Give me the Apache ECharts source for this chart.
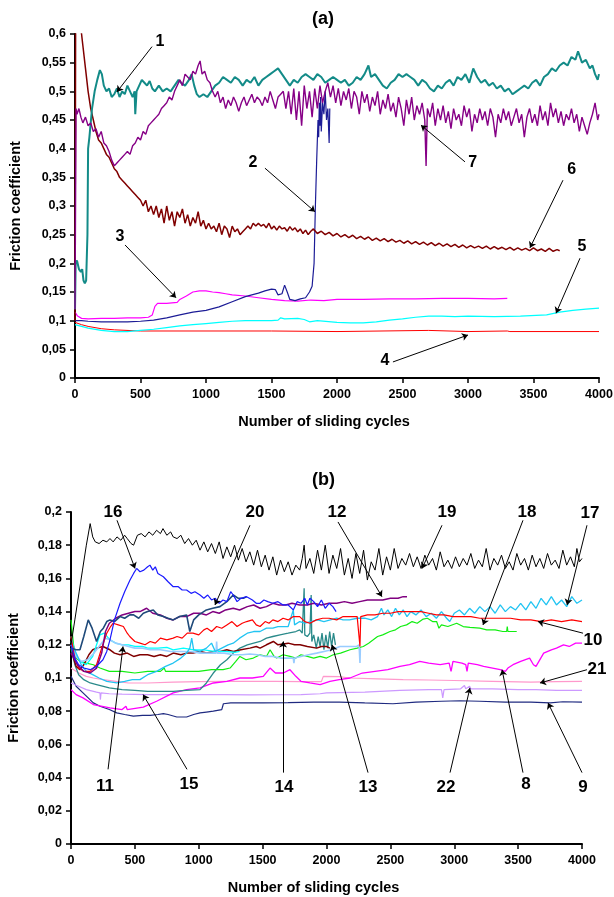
<!DOCTYPE html>
<html><head><meta charset="utf-8">
<script src="https://cdn.jsdelivr.net/npm/echarts@6/dist/echarts.min.js"></script>
<style>html,body{margin:0;padding:0;background:#fff}#c{width:614px;height:897px}</style>
</head><body><div id="c"></div>
<script>
// ---------- axis ticks ----------
const xTicksMax = 4000, xTickStep = 500;
const yTopMax = 0.6, yTopStep = 0.05;
const yBotMax = 0.2, yBotStep = 0.02;
const xName = 'Number of sliding cycles';
const yName = 'Friction coefficient';

// ---------- panel (a) series: [cycles, friction] ----------
const a1 = [[0,0.12],[5,0.2],[15,0.205],[30,0.19],[45,0.185],[55,0.19],[65,0.17],[75,0.165],[85,0.17],[95,0.25],[100,0.4],[110,0.42],[130,0.47],[150,0.5],[170,0.52],[190,0.537],[205,0.53],[220,0.51],[240,0.5],[260,0.505],[280,0.49],[300,0.495],[320,0.505],[340,0.49],[360,0.5],[380,0.495],[400,0.51],[420,0.5],[440,0.49],[455,0.5],[460,0.46],[470,0.5],[490,0.51],[510,0.52],[530,0.515],[550,0.51],[570,0.518],[590,0.505],[610,0.5],[640,0.51],[670,0.5],[700,0.505],[730,0.5],[760,0.51],[790,0.52],[810,0.515],[840,0.51],[870,0.52],[890,0.53],[910,0.51],[930,0.495],[950,0.49],[980,0.495],[1010,0.49],[1040,0.5],[1070,0.51],[1100,0.515],[1130,0.525],[1160,0.52],[1190,0.515],[1220,0.525],[1250,0.52],[1280,0.51],[1310,0.52],[1340,0.515],[1370,0.525],[1400,0.51],[1430,0.52],[1460,0.525],[1490,0.53],[1520,0.535],[1550,0.54],[1580,0.53],[1610,0.52],[1640,0.51],[1670,0.52],[1700,0.515],[1730,0.525],[1760,0.53],[1790,0.525],[1820,0.52],[1850,0.53],[1880,0.525],[1910,0.515],[1940,0.52],[1970,0.525],[2000,0.52],[2030,0.515],[2060,0.52],[2090,0.51],[2120,0.515],[2150,0.525],[2180,0.52],[2210,0.53],[2240,0.545],[2260,0.525],[2290,0.53],[2320,0.52],[2350,0.51],[2380,0.505],[2410,0.515],[2440,0.52],[2470,0.53],[2500,0.525],[2530,0.53],[2560,0.525],[2590,0.52],[2620,0.51],[2650,0.52],[2680,0.515],[2710,0.505],[2740,0.5],[2770,0.51],[2800,0.505],[2830,0.515],[2860,0.52],[2890,0.51],[2920,0.525],[2950,0.52],[2980,0.53],[3010,0.515],[3040,0.54],[3070,0.525],[3100,0.515],[3130,0.52],[3160,0.51],[3190,0.515],[3220,0.505],[3250,0.51],[3280,0.5],[3310,0.505],[3340,0.495],[3370,0.5],[3400,0.505],[3430,0.51],[3460,0.505],[3490,0.515],[3520,0.52],[3550,0.51],[3580,0.525],[3610,0.53],[3640,0.54],[3670,0.535],[3700,0.545],[3730,0.55],[3760,0.545],[3790,0.56],[3820,0.555],[3840,0.57],[3870,0.55],[3900,0.555],[3930,0.54],[3950,0.545],[3970,0.53],[3990,0.52],[4000,0.53]];
const a7 = [[0,0.12],[8,0.47],[15,0.46],[30,0.47],[45,0.455],[60,0.445],[80,0.455],[100,0.44],[120,0.445],[140,0.43],[160,0.435],[180,0.42],[200,0.43],[220,0.41],[240,0.405],[260,0.395],[280,0.38],[300,0.37],[320,0.375],[340,0.38],[360,0.385],[380,0.39],[400,0.395],[420,0.39],[440,0.405],[460,0.41],[480,0.42],[500,0.415],[520,0.43],[540,0.425],[560,0.44],[580,0.445],[600,0.45],[620,0.455],[640,0.46],[660,0.47],[680,0.475],[700,0.48],[720,0.49],[740,0.485],[760,0.5],[780,0.51],[800,0.52],[820,0.51],[840,0.53],[860,0.525],[880,0.52],[900,0.535],[920,0.53],[940,0.545],[955,0.553],[970,0.53],[990,0.535],[1010,0.52],[1030,0.515],[1050,0.5],[1070,0.49],[1090,0.5],[1110,0.48],[1130,0.49],[1150,0.47],[1170,0.485],[1190,0.475],[1210,0.49],[1230,0.48],[1250,0.465],[1270,0.48],[1290,0.49],[1310,0.475],[1330,0.485],[1350,0.495],[1370,0.48],[1390,0.49],[1410,0.485],[1430,0.475],[1450,0.49],[1470,0.48],[1490,0.5],[1510,0.485],[1530,0.47],[1550,0.49],[1570,0.495],[1590,0.5],[1610,0.47],[1630,0.5],[1650,0.46],[1670,0.505],[1690,0.45],[1710,0.5],[1730,0.44],[1750,0.51],[1770,0.47],[1790,0.5],[1810,0.455],[1830,0.505],[1850,0.47],[1870,0.51],[1890,0.48],[1910,0.5],[1930,0.515],[1950,0.49],[1970,0.51],[1990,0.48],[2010,0.505],[2030,0.475],[2050,0.5],[2070,0.485],[2090,0.505],[2110,0.47],[2130,0.5],[2150,0.49],[2170,0.46],[2190,0.5],[2210,0.48],[2230,0.495],[2250,0.465],[2270,0.49],[2290,0.475],[2310,0.5],[2330,0.46],[2350,0.485],[2370,0.47],[2390,0.495],[2410,0.465],[2430,0.48],[2450,0.455],[2470,0.49],[2490,0.47],[2510,0.44],[2530,0.485],[2550,0.46],[2570,0.49],[2590,0.45],[2610,0.475],[2630,0.46],[2650,0.48],[2670,0.45],[2680,0.37],[2690,0.47],[2710,0.455],[2730,0.48],[2750,0.44],[2770,0.47],[2790,0.45],[2810,0.475],[2830,0.445],[2850,0.465],[2870,0.435],[2890,0.47],[2910,0.45],[2930,0.46],[2950,0.44],[2970,0.475],[2990,0.455],[3010,0.47],[3030,0.43],[3050,0.46],[3070,0.445],[3090,0.47],[3110,0.45],[3130,0.465],[3150,0.44],[3170,0.47],[3190,0.455],[3210,0.42],[3230,0.46],[3250,0.445],[3270,0.47],[3290,0.45],[3310,0.465],[3330,0.44],[3350,0.455],[3370,0.47],[3390,0.445],[3410,0.46],[3430,0.42],[3450,0.455],[3470,0.47],[3490,0.445],[3510,0.46],[3530,0.44],[3550,0.475],[3570,0.45],[3590,0.465],[3610,0.44],[3630,0.48],[3650,0.455],[3670,0.47],[3690,0.445],[3710,0.465],[3730,0.44],[3750,0.46],[3770,0.45],[3790,0.47],[3810,0.445],[3830,0.46],[3850,0.43],[3870,0.455],[3890,0.44],[3910,0.425],[3930,0.445],[3950,0.46],[3970,0.48],[3990,0.45],[4000,0.46]];
const a6 = [[0,0.1],[5,0.65],[40,0.62],[60,0.58],[80,0.54],[100,0.5],[120,0.47],[140,0.45],[160,0.43],[180,0.415],[200,0.41],[220,0.4],[240,0.39],[260,0.385],[280,0.375],[300,0.365],[320,0.36],[340,0.35],[360,0.345],[380,0.34],[400,0.335],[420,0.33],[440,0.325],[460,0.32],[480,0.315],[500,0.31],[520,0.3],[540,0.31],[560,0.29],[580,0.3],[600,0.285],[620,0.3],[640,0.28],[660,0.295],[680,0.27],[700,0.3],[720,0.275],[740,0.29],[760,0.265],[780,0.29],[800,0.28],[820,0.295],[840,0.27],[860,0.285],[880,0.265],[900,0.28],[920,0.27],[940,0.29],[960,0.265],[980,0.275],[1000,0.26],[1020,0.27],[1040,0.26],[1060,0.265],[1080,0.255],[1100,0.27],[1120,0.25],[1140,0.265],[1160,0.26],[1180,0.245],[1200,0.265],[1220,0.255],[1240,0.26],[1260,0.25],[1280,0.255],[1300,0.26],[1320,0.265],[1340,0.26],[1360,0.27],[1380,0.265],[1400,0.27],[1420,0.265],[1440,0.268],[1460,0.262],[1480,0.27],[1500,0.26],[1520,0.265],[1540,0.258],[1560,0.265],[1580,0.26],[1600,0.262],[1620,0.256],[1640,0.264],[1660,0.258],[1680,0.262],[1700,0.255],[1720,0.26],[1740,0.252],[1760,0.258],[1780,0.25],[1800,0.256],[1820,0.26],[1850,0.252],[1880,0.256],[1910,0.25],[1940,0.254],[1970,0.248],[2000,0.252],[2030,0.246],[2060,0.25],[2090,0.245],[2120,0.249],[2150,0.243],[2180,0.247],[2210,0.242],[2240,0.246],[2270,0.24],[2300,0.244],[2330,0.239],[2360,0.243],[2390,0.238],[2420,0.242],[2450,0.237],[2480,0.24],[2510,0.235],[2540,0.239],[2570,0.234],[2600,0.238],[2630,0.233],[2660,0.237],[2690,0.232],[2720,0.236],[2750,0.231],[2780,0.235],[2810,0.23],[2840,0.234],[2870,0.229],[2900,0.233],[2930,0.228],[2960,0.232],[2990,0.227],[3020,0.231],[3050,0.227],[3080,0.23],[3110,0.226],[3140,0.23],[3170,0.225],[3200,0.229],[3230,0.225],[3260,0.228],[3290,0.224],[3320,0.228],[3350,0.223],[3380,0.227],[3410,0.223],[3440,0.226],[3470,0.222],[3500,0.227],[3530,0.222],[3560,0.225],[3590,0.221],[3620,0.226],[3650,0.221],[3680,0.224],[3700,0.222]];
const a2 = [[0,0.1],[50,0.1],[100,0.099],[200,0.098],[300,0.098],[400,0.098],[500,0.099],[600,0.101],[700,0.105],[800,0.11],[900,0.115],[1000,0.118],[1100,0.124],[1200,0.133],[1300,0.142],[1400,0.148],[1450,0.152],[1500,0.155],[1530,0.154],[1550,0.145],[1580,0.147],[1600,0.162],[1620,0.15],[1640,0.137],[1680,0.135],[1720,0.138],[1760,0.14],[1790,0.15],[1810,0.16],[1825,0.2],[1835,0.3],[1845,0.38],[1855,0.45],[1860,0.42],[1865,0.48],[1870,0.44],[1875,0.49],[1880,0.43],[1890,0.48],[1900,0.46],[1910,0.5],[1920,0.45],[1930,0.47],[1940,0.41],[1945,0.47]];
const a3 = [[0,0.115],[20,0.108],[50,0.104],[100,0.103],[200,0.104],[300,0.104],[400,0.105],[500,0.105],[560,0.106],[590,0.11],[610,0.125],[630,0.13],[700,0.13],[780,0.132],[800,0.137],[850,0.143],[900,0.15],[950,0.152],[1000,0.152],[1050,0.15],[1100,0.149],[1150,0.147],[1200,0.145],[1300,0.143],[1400,0.14],[1500,0.137],[1600,0.135],[1700,0.134],[1800,0.136],[1900,0.135],[2000,0.137],[2200,0.137],[2400,0.138],[2600,0.138],[2800,0.139],[3000,0.139],[3200,0.138],[3300,0.139]];
const a5 = [[0,0.093],[50,0.09],[100,0.087],[200,0.083],[300,0.081],[400,0.081],[500,0.083],[600,0.085],[700,0.088],[800,0.091],[900,0.093],[1000,0.095],[1100,0.097],[1200,0.099],[1300,0.1],[1400,0.1],[1500,0.1],[1550,0.101],[1570,0.105],[1600,0.103],[1700,0.104],[1750,0.102],[1790,0.098],[1850,0.1],[2000,0.097],[2100,0.096],[2200,0.096],[2300,0.098],[2400,0.101],[2500,0.103],[2600,0.106],[2700,0.108],[2800,0.108],[2900,0.107],[3000,0.108],[3200,0.107],[3400,0.108],[3600,0.11],[3700,0.115],[3800,0.118],[3900,0.12],[4000,0.122]];
const a4 = [[0,0.097],[50,0.093],[100,0.09],[200,0.086],[300,0.084],[500,0.082],[1000,0.082],[1500,0.082],[2000,0.081],[2700,0.083],[2710,0.081],[3000,0.081],[3300,0.082],[3310,0.084],[3320,0.081],[4000,0.081]];

// ---------- panel (b) series ----------
const b19 = [[0,0.12],[30,0.135],[60,0.15],[90,0.165],[120,0.18],[150,0.193],[170,0.185],[190,0.182],[220,0.181],[250,0.183],[280,0.182],[305,0.184],[330,0.182],[360,0.185],[390,0.183],[420,0.186],[440,0.184],[470,0.181],[490,0.18],[520,0.186],[550,0.187],[580,0.185],[610,0.188],[640,0.186],[670,0.189],[700,0.187],[720,0.19],[750,0.186],[780,0.188],[800,0.185],[830,0.184],[860,0.186],[890,0.181],[920,0.184],[950,0.18],[980,0.183],[1010,0.177],[1040,0.182],[1070,0.176],[1100,0.181],[1130,0.175],[1160,0.182],[1190,0.172],[1220,0.179],[1250,0.173],[1280,0.18],[1310,0.171],[1340,0.178],[1370,0.17],[1400,0.176],[1430,0.168],[1460,0.177],[1490,0.167],[1520,0.174],[1550,0.165],[1580,0.173],[1610,0.162],[1640,0.171],[1670,0.164],[1700,0.17],[1730,0.162],[1760,0.168],[1790,0.165],[1810,0.172],[1825,0.18],[1840,0.166],[1870,0.172],[1900,0.163],[1930,0.177],[1960,0.165],[1990,0.18],[2020,0.163],[2050,0.174],[2080,0.166],[2110,0.178],[2140,0.162],[2170,0.172],[2200,0.16],[2230,0.175],[2260,0.163],[2290,0.177],[2320,0.159],[2350,0.17],[2380,0.165],[2410,0.178],[2440,0.162],[2470,0.173],[2500,0.165],[2530,0.178],[2560,0.166],[2590,0.172],[2620,0.168],[2650,0.175],[2680,0.167],[2710,0.173],[2740,0.166],[2770,0.174],[2800,0.168],[2830,0.172],[2860,0.165],[2890,0.176],[2920,0.167],[2950,0.171],[2980,0.166],[3010,0.173],[3040,0.167],[3070,0.172],[3100,0.168],[3130,0.175],[3160,0.166],[3190,0.171],[3220,0.167],[3250,0.178],[3280,0.165],[3310,0.172],[3340,0.168],[3370,0.174],[3400,0.166],[3430,0.17],[3460,0.165],[3490,0.175],[3520,0.168],[3550,0.172],[3580,0.165],[3610,0.174],[3640,0.167],[3670,0.172],[3700,0.166],[3730,0.175],[3760,0.168],[3790,0.171],[3820,0.166],[3850,0.177],[3880,0.168],[3910,0.173],[3940,0.167],[3960,0.178],[3980,0.17],[4000,0.172]];
const b16 = [[0,0.12],[30,0.112],[60,0.108],[100,0.106],[150,0.105],[200,0.107],[250,0.111],[280,0.116],[305,0.123],[340,0.135],[384,0.145],[420,0.152],[462,0.159],[490,0.163],[514,0.166],[540,0.164],[570,0.165],[600,0.167],[618,0.168],[640,0.165],[660,0.167],[680,0.163],[700,0.162],[723,0.161],[760,0.158],[800,0.155],[840,0.155],[870,0.153],[905,0.153],[940,0.151],[970,0.152],[1010,0.15],[1040,0.148],[1070,0.15],[1100,0.147],[1130,0.148],[1160,0.145],[1190,0.147],[1220,0.146],[1250,0.152],[1270,0.15],[1300,0.146],[1330,0.148],[1375,0.149],[1420,0.147],[1450,0.145],[1480,0.145],[1510,0.147],[1540,0.146],[1580,0.145],[1620,0.146],[1660,0.144],[1700,0.144],[1740,0.141],[1770,0.146],[1800,0.145],[1830,0.148],[1850,0.144],[1870,0.148],[1900,0.146],[1930,0.143],[1960,0.147],[1990,0.142],[2020,0.145],[2050,0.143],[2075,0.14]];
const b20 = [[0,0.118],[40,0.117],[70,0.117],[100,0.125],[135,0.135],[165,0.13],[200,0.122],[230,0.128],[253,0.13],[280,0.134],[305,0.135],[340,0.134],[384,0.137],[420,0.136],[460,0.138],[490,0.138],[530,0.136],[566,0.139],[600,0.14],[644,0.141],[680,0.138],[723,0.137],[760,0.136],[800,0.135],[850,0.137],[905,0.138],[930,0.128],[960,0.135],[1000,0.138],[1060,0.141],[1110,0.142],[1166,0.143],[1220,0.146],[1270,0.15],[1310,0.148],[1350,0.148],[1375,0.149]];
const b12 = [[0,0.115],[50,0.108],[100,0.104],[150,0.103],[200,0.106],[240,0.115],[270,0.128],[300,0.133],[350,0.136],[400,0.138],[450,0.139],[500,0.14],[540,0.14],[592,0.142],[640,0.139],[700,0.138],[750,0.136],[800,0.135],[850,0.137],[905,0.137],[960,0.139],[1010,0.139],[1060,0.138],[1110,0.14],[1160,0.139],[1210,0.141],[1270,0.142],[1320,0.141],[1380,0.143],[1430,0.144],[1480,0.142],[1530,0.143],[1580,0.145],[1630,0.144],[1680,0.144],[1730,0.145],[1790,0.144],[1850,0.144],[1900,0.145],[1960,0.144],[2020,0.145],[2080,0.145],[2140,0.146],[2200,0.145],[2260,0.146],[2320,0.147],[2380,0.147],[2440,0.147],[2500,0.148],[2560,0.148],[2600,0.149],[2630,0.149]];
const b10 = [[0,0.125],[30,0.112],[60,0.106],[100,0.104],[150,0.104],[200,0.108],[240,0.118],[280,0.127],[310,0.131],[330,0.133],[370,0.132],[410,0.131],[440,0.127],[460,0.125],[500,0.122],[540,0.121],[580,0.12],[620,0.122],[660,0.121],[700,0.124],[750,0.123],[800,0.124],[830,0.125],[870,0.124],[910,0.127],[955,0.127],[1000,0.126],[1040,0.129],[1065,0.13],[1100,0.128],[1140,0.131],[1180,0.13],[1220,0.132],[1260,0.134],[1300,0.131],[1340,0.133],[1375,0.134],[1420,0.135],[1450,0.132],[1480,0.131],[1520,0.134],[1550,0.133],[1580,0.135],[1620,0.134],[1660,0.136],[1700,0.135],[1740,0.137],[1790,0.137],[1830,0.134],[1870,0.133],[1920,0.135],[1970,0.136],[2020,0.136],[2080,0.135],[2130,0.137],[2180,0.137],[2240,0.137],[2255,0.137],[2262,0.119],[2268,0.137],[2320,0.138],[2380,0.138],[2440,0.139],[2500,0.139],[2560,0.14],[2620,0.14],[2680,0.14],[2740,0.14],[2800,0.139],[2860,0.138],[2920,0.138],[2990,0.137],[3060,0.137],[3130,0.137],[3200,0.136],[3280,0.136],[3360,0.136],[3440,0.136],[3520,0.135],[3600,0.135],[3680,0.134],[3760,0.135],[3840,0.134],[3920,0.135],[4000,0.134]];
const b17 = [[0,0.122],[40,0.115],[80,0.108],[120,0.104],[170,0.102],[220,0.1],[280,0.098],[358,0.097],[420,0.098],[480,0.099],[540,0.099],[600,0.102],[670,0.104],[740,0.107],[800,0.109],[860,0.112],[905,0.115],[930,0.118],[945,0.124],[960,0.117],[1010,0.116],[1060,0.118],[1100,0.121],[1130,0.116],[1180,0.118],[1230,0.12],[1270,0.121],[1320,0.124],[1380,0.127],[1430,0.128],[1480,0.128],[1530,0.13],[1580,0.13],[1620,0.131],[1660,0.131],[1700,0.131],[1740,0.141],[1750,0.132],[1790,0.134],[1830,0.133],[1880,0.134],[1930,0.135],[1980,0.134],[2030,0.135],[2080,0.136],[2130,0.135],[2180,0.135],[2240,0.136],[2300,0.136],[2350,0.135],[2400,0.137],[2430,0.142],[2450,0.138],[2480,0.141],[2510,0.137],[2540,0.142],[2570,0.138],[2600,0.141],[2630,0.137],[2660,0.14],[2700,0.138],[2740,0.141],[2780,0.137],[2820,0.139],[2860,0.136],[2900,0.14],[2940,0.136],[2965,0.134],[3000,0.139],[3040,0.141],[3080,0.138],[3120,0.142],[3160,0.139],[3200,0.143],[3240,0.14],[3280,0.143],[3320,0.139],[3360,0.144],[3400,0.14],[3440,0.143],[3480,0.141],[3520,0.145],[3560,0.141],[3600,0.146],[3640,0.142],[3680,0.148],[3720,0.144],[3760,0.149],[3800,0.144],[3840,0.147],[3880,0.143],[3920,0.149],[3960,0.145],[4000,0.147]];
const b18 = [[0,0.135],[20,0.12],[40,0.112],[70,0.11],[120,0.109],[175,0.108],[227,0.106],[300,0.104],[400,0.104],[500,0.103],[600,0.104],[700,0.104],[730,0.106],[740,0.104],[800,0.104],[900,0.104],[1000,0.104],[1100,0.105],[1190,0.105],[1245,0.106],[1290,0.11],[1322,0.113],[1370,0.111],[1427,0.112],[1480,0.114],[1530,0.113],[1558,0.117],[1590,0.113],[1610,0.112],[1660,0.114],[1714,0.113],[1760,0.112],[1800,0.114],[1850,0.113],[1900,0.112],[1950,0.113],[2000,0.112],[2053,0.114],[2110,0.115],[2184,0.117],[2240,0.118],[2288,0.119],[2330,0.121],[2366,0.123],[2400,0.125],[2440,0.126],[2497,0.128],[2540,0.129],[2580,0.131],[2627,0.132],[2670,0.134],[2710,0.133],[2757,0.1355],[2790,0.136],[2830,0.134],[2862,0.134],[2880,0.13],[2900,0.132],[2950,0.131],[3019,0.133],[3070,0.131],[3123,0.1305],[3200,0.13],[3254,0.129],[3320,0.129],[3380,0.128],[3410,0.128],[3415,0.131],[3420,0.128],[3489,0.128]];
const b14 = [[0,0.125],[20,0.112],[40,0.107],[70,0.105],[100,0.108],[140,0.114],[170,0.117],[200,0.118],[250,0.119],[305,0.117],[340,0.115],[384,0.114],[440,0.115],[490,0.113],[540,0.114],[600,0.114],[650,0.113],[700,0.114],[750,0.113],[800,0.115],[860,0.114],[905,0.115],[955,0.115],[1010,0.116],[1062,0.115],[1120,0.116],[1170,0.116],[1220,0.117],[1270,0.116],[1330,0.117],[1400,0.118],[1450,0.119],[1480,0.118],[1530,0.12],[1584,0.122],[1620,0.12],[1662,0.1205],[1700,0.121],[1750,0.12],[1793,0.12],[1850,0.119],[1923,0.118],[1960,0.119],[2000,0.119],[2027,0.118]];
const b13 = [[0,0.118],[30,0.108],[60,0.102],[100,0.099],[150,0.097],[200,0.096],[300,0.094],[400,0.093],[500,0.0925],[600,0.092],[700,0.092],[800,0.092],[900,0.0925],[1010,0.093],[1060,0.097],[1114,0.103],[1170,0.108],[1220,0.111],[1270,0.115],[1322,0.118],[1380,0.12],[1430,0.121],[1480,0.122],[1530,0.124],[1580,0.125],[1636,0.126],[1700,0.127],[1760,0.128],[1790,0.129],[1810,0.127],[1825,0.154],[1830,0.126],[1850,0.125],[1870,0.127],[1880,0.15],[1885,0.122],[1900,0.126],[1920,0.118],[1935,0.125],[1950,0.119],[1965,0.127],[1980,0.117],[1995,0.126],[2010,0.118],[2025,0.128],[2040,0.119],[2055,0.127],[2070,0.12]];
const b8 = [[0,0.093],[40,0.09],[94,0.088],[175,0.084],[305,0.082],[400,0.081],[430,0.083],[440,0.081],[566,0.0825],[670,0.086],[800,0.091],[905,0.093],[1010,0.094],[1114,0.097],[1220,0.098],[1322,0.1],[1420,0.1],[1505,0.101],[1558,0.106],[1600,0.103],[1662,0.103],[1714,0.105],[1760,0.101],[1800,0.098],[1870,0.097],[1950,0.096],[2027,0.098],[2100,0.099],[2184,0.1],[2280,0.103],[2380,0.104],[2480,0.105],[2575,0.107],[2650,0.108],[2730,0.11],[2800,0.109],[2890,0.108],[2960,0.109],[2975,0.104],[2990,0.11],[3060,0.109],[3090,0.108],[3100,0.104],[3110,0.109],[3180,0.108],[3230,0.107],[3300,0.106],[3360,0.105],[3400,0.104],[3420,0.106],[3460,0.108],[3520,0.11],[3590,0.112],[3620,0.108],[3640,0.107],[3700,0.115],[3760,0.117],[3800,0.118],[3855,0.12],[3900,0.119],[3950,0.121],[4000,0.121]];
const b9 = [[0,0.101],[40,0.095],[94,0.091],[175,0.085],[227,0.083],[300,0.081],[358,0.079],[420,0.078],[488,0.077],[560,0.0775],[620,0.0775],[680,0.078],[723,0.0785],[760,0.078],[828,0.0765],[905,0.0765],[960,0.078],[1010,0.079],[1060,0.0795],[1114,0.08],[1180,0.081],[1193,0.0845],[1250,0.085],[1322,0.085],[1500,0.085],[1700,0.0852],[1900,0.0855],[2100,0.0855],[2300,0.085],[2520,0.0845],[2700,0.0855],[2900,0.086],[3045,0.0863],[3200,0.086],[3400,0.0855],[3600,0.0855],[3750,0.085],[3850,0.0857],[4000,0.0855]];
const b21 = [[0,0.106],[60,0.103],[120,0.101],[175,0.1],[250,0.099],[350,0.098],[450,0.097],[600,0.097],[800,0.0975],[1000,0.0978],[1200,0.098],[1400,0.098],[1600,0.098],[1800,0.0978],[1960,0.0978],[1975,0.101],[2100,0.1008],[2180,0.1],[2400,0.0995],[2600,0.099],[2800,0.0988],[3000,0.0985],[3300,0.098],[3600,0.0975],[3800,0.0978],[4000,0.098]];
const b22 = [[0,0.097],[60,0.095],[120,0.093],[200,0.0915],[227,0.091],[230,0.087],[235,0.091],[300,0.0905],[400,0.0903],[600,0.09],[800,0.09],[1000,0.09],[1200,0.09],[1400,0.0898],[1600,0.0899],[1800,0.09],[1950,0.0905],[2000,0.091],[2300,0.0915],[2575,0.0925],[2800,0.093],[2900,0.093],[2910,0.088],[2920,0.093],[3050,0.0935],[3080,0.0955],[3090,0.0935],[3120,0.095],[3130,0.0935],[3300,0.0935],[3500,0.093],[3640,0.093],[3800,0.0925],[4000,0.0925]];
const b15 = [[0,0.12],[40,0.113],[80,0.11],[130,0.111],[180,0.115],[230,0.12],[270,0.124],[305,0.123],[350,0.121],[400,0.12],[450,0.119],[500,0.118],[560,0.118],[620,0.117],[700,0.117],[780,0.116],[860,0.116],[940,0.116],[1010,0.115],[1080,0.115],[1135,0.115],[1140,0.122],[1145,0.115],[1200,0.115],[1270,0.114],[1340,0.114],[1400,0.1145],[1460,0.114],[1520,0.113],[1580,0.113],[1640,0.112],[1700,0.112],[1740,0.112],[1745,0.109],[1750,0.112],[1800,0.113],[1860,0.114],[1923,0.115],[1980,0.116],[2040,0.117],[2105,0.119],[2170,0.119],[2236,0.119],[2255,0.12],[2262,0.109],[2265,0.118]];
const b11 = [[0,0.125],[30,0.116],[70,0.11],[120,0.108],[170,0.113],[200,0.12],[227,0.126],[260,0.127],[305,0.123],[350,0.121],[400,0.12],[450,0.12],[500,0.119],[560,0.119],[600,0.118],[680,0.118],[750,0.1185],[800,0.117],[880,0.118],[960,0.117],[1040,0.117],[1120,0.116],[1200,0.116],[1280,0.1155],[1320,0.116]];

// ---------- annotations (label text, cycles, friction) ----------
const topLabels = [['1',649,0.586],['2',1359,0.375],['3',344,0.246],['4',2366,0.031],['5',3870,0.229],['6',3791,0.363],['7',3036,0.375]];
const topArrows = [[588,0.578,320,0.499],[1450,0.366,1832,0.29],[382,0.232,771,0.14],[2427,0.028,3000,0.075],[3855,0.209,3672,0.113],[3725,0.345,3473,0.227],[2977,0.377,2641,0.441]];
const botLabels = [['16',329,0.2],['20',1440,0.2],['12',2082,0.2],['19',2943,0.2],['18',3570,0.2],['17',4063,0.199],['10',4086,0.123],['21',4117,0.105],['9',4008,0.034],['8',3562,0.036],['22',2935,0.034],['13',2325,0.034],['14',1667,0.034],['15',924,0.036],['11',266,0.035]];
const botArrows = [[360,0.195,501,0.166],[1401,0.192,1127,0.144],[2090,0.194,2434,0.149],[2904,0.192,2748,0.166],[3538,0.195,3225,0.132],[4039,0.192,3883,0.144],[4008,0.127,3655,0.134],[4039,0.105,3671,0.097],[4000,0.043,3734,0.085],[3538,0.043,3374,0.105],[2967,0.043,3123,0.094],[2325,0.043,2043,0.12],[1660,0.043,1660,0.122],[908,0.045,564,0.09],[290,0.045,407,0.119]];

// ---------- build ----------
const FONT = '"Liberation Sans", Arial, sans-serif';
function line(data, color, width, g) {
  return {type:'line', data:data, xAxisIndex:g, yAxisIndex:g, showSymbol:false, symbol:'none',
    lineStyle:{color:color, width:width}, itemStyle:{color:color}, silent:true, animation:false,
    emphasis:{disabled:true}};
}
function labels(list, g, size) {
  return {type:'scatter', xAxisIndex:g, yAxisIndex:g, clip:false, silent:true, animation:false,
    symbolSize:0, itemStyle:{color:'#000', opacity:1}, z:20, zlevel:0,
    emphasis:{disabled:true},
    data:list.map(function(d){return [d[1], d[2], d[0]];}),
    label:{show:true, position:'inside', formatter:function(p){return p.data[2];}, opacity:1,
      textBorderWidth:0, textShadowBlur:0,
      fontFamily:FONT, fontWeight:'bold', fontSize:size, color:'#000'}};
}
function arrows(list, g) {
  return {type:'lines', coordinateSystem:'cartesian2d', xAxisIndex:g, yAxisIndex:g, clip:false,
    silent:true, animation:false, z:19, symbol:['none','arrow'], symbolSize:6,
    emphasis:{disabled:true},
    lineStyle:{color:'#000', width:1, opacity:1, curveness:0},
    data:list.map(function(d){return {coords:[[d[0],d[1]],[d[2],d[3]]]};})};
}
function fmt(v){ return String(Math.round(v*100)/100).replace('.', ','); }
function fmtX(v){ return String(Math.round(v)); }
function xAx(g) {
  return {type:'value', gridIndex:g, min:0, max:xTicksMax, interval:xTickStep,
    name:xName, nameLocation:'middle', nameGap:36, nameMoveOverlap:false,
    nameTextStyle:{fontFamily:FONT, fontWeight:'bold', fontSize:14.5, color:'#000', padding:[0,26,0,0]},
    axisLine:{show:true, onZero:false, lineStyle:{color:'#000', width:2}},
    axisTick:{show:true, inside:false, length:5, lineStyle:{color:'#000', width:1.5}},
    axisLabel:{fontFamily:FONT, fontWeight:'bold', fontSize:12.5, color:'#000', margin:10, formatter:fmtX, showMinLabel:true, showMaxLabel:true},
    splitLine:{show:false}};
}
function yAx(g, max, step, gap) {
  return {type:'value', gridIndex:g, min:0, max:max, interval:step,
    name:yName, nameLocation:'middle', nameGap:gap, nameRotate:90, nameMoveOverlap:false,
    nameTextStyle:{fontFamily:FONT, fontWeight:'bold', fontSize:14.5, color:'#000'},
    axisLine:{show:true, onZero:false, lineStyle:{color:'#000', width:2}},
    axisTick:{show:true, inside:false, length:5, lineStyle:{color:'#000', width:1.5}},
    axisLabel:{fontFamily:FONT, fontWeight:'bold', fontSize:12.5, color:'#000', margin:9, formatter:fmt, showMinLabel:true, showMaxLabel:true},
    splitLine:{show:false}};
}

const chart = echarts.init(document.getElementById('c'), null, {renderer:'canvas'});
chart.setOption({
  backgroundColor:'#fff',
  animation:false,
  title:[
    {text:'(a)', left:307, top:5, textStyle:{fontFamily:FONT, fontWeight:'bold', fontSize:18, color:'#000'}},
    {text:'(b)', left:307, top:466, textStyle:{fontFamily:FONT, fontWeight:'bold', fontSize:18, color:'#000'}}
  ],
  grid:[
    {left:75, right:15, top:34, bottom:519, outerBoundsMode:'none', containLabel:false},
    {left:71, right:32, top:512, bottom:53, outerBoundsMode:'none', containLabel:false}
  ],
  xAxis:[xAx(0), xAx(1)],
  yAxis:[yAx(0, yTopMax, yTopStep, 52), yAx(1, yBotMax, yBotStep, 50)],
  series:[
    line(a4,'#ff0000',1,0),
    line(a5,'#00ffff',1.2,0),
    line(a3,'#ff00ff',1.2,0),
    line(a2,'#1c1c96',1.2,0),
    line(a6,'#800000',1.5,0),
    line(a1,'#138b88',2,0),
    line(a7,'#860086',1.4,0),
    labels(topLabels,0,16),
    arrows(topArrows,0),

    line(b9,'#1f2a80',1.2,1),
    line(b22,'#cc99ff',1.2,1),
    line(b21,'#ff99cc',1.2,1),
    line(b8,'#ff00ff',1.3,1),
    line(b13,'#2a8a8a',1.3,1),
    line(b18,'#11ee11',1.2,1),
    line(b14,'#800000',1.5,1),
    line(b11,'#00ffff',1.3,1),
    line(b15,'#99ccff',1.6,1),
    line(b17,'#22c4f2',1.3,1),
    line(b10,'#ff0000',1.2,1),
    line(b12,'#800080',1.5,1),
    line(b20,'#1f4a7a',1.6,1),
    line(b16,'#1a1aff',1.2,1),
    line(b19,'#000000',1,1),
    labels(botLabels,1,17),
    arrows(botArrows,1)
  ]
});
</script></body></html>
